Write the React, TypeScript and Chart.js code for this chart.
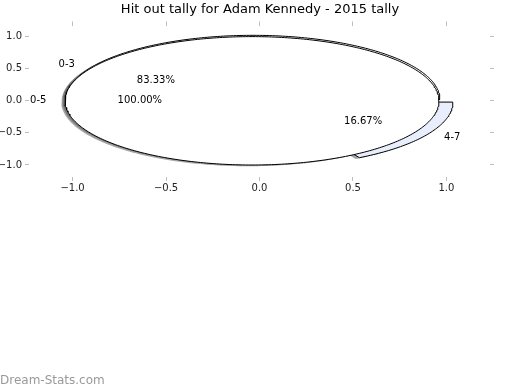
import React, { useEffect, useRef } from 'react';
import { Chart, registerables } from 'chart.js';

Chart.register(...registerables);

// ---- data ----
const titleText = 'Hit out tally for Adam Kennedy - 2015 tally';
const outerLabels = ['0-3', '4-7'];
const outerValues = [5, 1];
const outerColors = ['#ffffff', '#e8eefb'];
const innerLabels = ['0-5'];
const innerValues = [6];
const innerColors = ['#ffffff'];
const tickValues = [-1, -0.5, 0, 0.5, 1];
const watermark = 'Dream-Stats.com';

// ---- pie geometry parameters (style) ----
const EXPLODE = 0.04;
const LABEL_DIST = 1.1;
const PCT_DIST = 0.6;
const SHADOW_DX = -0.02;
const SHADOW_DY = -0.02;
const RADIUS = 1;
const X_MIN = -1.233;
const X_MAX = 1.233;
const Y_MIN = -1.187;
const Y_MAX = 1.173;

type Wedge = {
  label: string;
  pct: number;
  t1: number;
  t2: number;
  cx: number;
  cy: number;
  color: string;
  full: boolean;
  mid: number;
};

function buildPie(labels: string[], values: number[], colors: string[]): Wedge[] {
  const total = values.reduce((a, b) => a + b, 0);
  let theta = 0;
  return values.map((v, i) => {
    const span = (360 * v) / total;
    const t1 = theta;
    const t2 = theta + span;
    theta = t2;
    const mid = (((t1 + t2) / 2) * Math.PI) / 180;
    return {
      label: labels[i],
      pct: (100 * v) / total,
      t1,
      t2,
      cx: EXPLODE * Math.cos(mid),
      cy: EXPLODE * Math.sin(mid),
      color: colors[i],
      full: Math.abs(span - 360) < 1e-9,
      mid,
    };
  });
}

function wedgePoints(w: Wedge, dx = 0, dy = 0) {
  const pts: { x: number; y: number }[] = [];
  const cx = w.cx + dx;
  const cy = w.cy + dy;
  if (!w.full) pts.push({ x: cx, y: cy });
  const n = Math.max(4, Math.ceil(w.t2 - w.t1));
  for (let k = 0; k <= n; k++) {
    const a = ((w.t1 + ((w.t2 - w.t1) * k) / n) * Math.PI) / 180;
    pts.push({ x: cx + RADIUS * Math.cos(a), y: cy + RADIUS * Math.sin(a) });
  }
  if (!w.full) pts.push({ x: cx, y: cy });
  return pts;
}

const outerPie = buildPie(outerLabels, outerValues, outerColors);
const innerPie = buildPie(innerLabels, innerValues, innerColors);
const allWedges = [...outerPie, ...innerPie];

const fmt = (v: number) => (v < 0 ? '\u2212' : '') + Math.abs(v).toFixed(1);

export default function App() {
  const ref = useRef<HTMLCanvasElement | null>(null);

  useEffect(() => {
    if (!ref.current) return;

    // back-to-front: all shadows, then outer pie wedges, then inner pie wedges
    const layers: any[] = [];
    allWedges.forEach((w) => {
      layers.push({
        data: wedgePoints(w, SHADOW_DX, SHADOW_DY),
        backgroundColor: 'rgba(77,77,77,0.5)',
        borderWidth: 0,
        borderColor: 'rgba(0,0,0,0)',
      });
    });
    allWedges.forEach((w) => {
      layers.push({
        data: wedgePoints(w),
        backgroundColor: w.color,
        borderWidth: 1,
        borderColor: '#000000',
      });
    });
    const datasets = layers.map((l, idx) => ({
      ...l,
      fill: 'shape',
      showLine: true,
      tension: 0,
      pointRadius: 0,
      pointHoverRadius: 0,
      order: layers.length - 1 - idx,
    }));

    const labelPlugin = {
      id: 'pieLabels',
      afterDatasetsDraw(chart: any) {
        const { ctx } = chart;
        const xs = chart.scales.x;
        const ys = chart.scales.y;
        ctx.save();
        ctx.font = '10px "DejaVu Sans"';
        ctx.fillStyle = '#000000';
        ctx.textBaseline = 'middle';
        for (const w of allWedges) {
          const lx = w.cx + LABEL_DIST * RADIUS * Math.cos(w.mid);
          const ly = w.cy + LABEL_DIST * RADIUS * Math.sin(w.mid);
          ctx.textAlign = lx > 0 ? 'left' : 'right';
          ctx.fillText(w.label, xs.getPixelForValue(lx), ys.getPixelForValue(ly));
          const px = w.cx + PCT_DIST * RADIUS * Math.cos(w.mid);
          const py = w.cy + PCT_DIST * RADIUS * Math.sin(w.mid);
          ctx.textAlign = 'center';
          ctx.fillText(w.pct.toFixed(2) + '%', xs.getPixelForValue(px), ys.getPixelForValue(py));
        }
        ctx.font = '12px "DejaVu Sans"';
        ctx.fillStyle = '#9a9a9a';
        ctx.textAlign = 'left';
        ctx.textBaseline = 'alphabetic';
        ctx.fillText(watermark, 0, 384);
        ctx.restore();
      },
    };

    const tickFont = { family: 'DejaVu Sans', size: 10 };
    const gridOpts = {
      display: true,
      drawOnChartArea: false,
      drawTicks: true,
      tickLength: 4,
      color: '#bdbdbd',
    };
    const setTicks = (s: any) => {
      s.ticks = tickValues.map((v) => ({ value: v }));
    };

    const chart = new Chart(ref.current, {
      type: 'line',
      data: { datasets } as any,
      options: {
        responsive: false,
        animation: false,
        devicePixelRatio: 1,
        events: [],
        layout: { padding: 0 },
        plugins: {
          legend: { display: false },
          tooltip: { enabled: false },
          title: {
            display: true,
            text: titleText,
            color: '#000000',
            font: { family: 'DejaVu Sans', size: 13, weight: 'normal' },
            padding: { top: 2, bottom: 0 },
          },
        },
        scales: {
          x: {
            type: 'linear',
            position: 'bottom',
            min: X_MIN,
            max: X_MAX,
            afterBuildTicks: setTicks,
            afterFit: (s: any) => {
              s.height = 213;
            },
            grid: gridOpts,
            border: { display: false },
            ticks: {
              font: tickFont,
              color: '#222222',
              padding: 1,
              maxRotation: 0,
              autoSkip: false,
              callback: (v: any) => fmt(Number(v)),
            },
          },
          x2: {
            type: 'linear',
            position: 'top',
            min: X_MIN,
            max: X_MAX,
            afterBuildTicks: setTicks,
            afterFit: (s: any) => {
              s.height = 7.9;
            },
            grid: gridOpts,
            border: { display: false },
            ticks: { display: false },
          },
          y: {
            type: 'linear',
            position: 'left',
            min: Y_MIN,
            max: Y_MAX,
            afterBuildTicks: setTicks,
            afterFit: (s: any) => {
              s.width = 29;
            },
            grid: gridOpts,
            border: { display: false },
            ticks: {
              font: tickFont,
              color: '#222222',
              padding: 3,
              autoSkip: false,
              callback: (v: any) => fmt(Number(v)),
            },
          },
          y2: {
            type: 'linear',
            position: 'right',
            min: Y_MIN,
            max: Y_MAX,
            afterBuildTicks: setTicks,
            afterFit: (s: any) => {
              s.width = 30;
            },
            grid: gridOpts,
            border: { display: false },
            ticks: { display: false },
          },
        },
      } as any,
      plugins: [labelPlugin],
    });

    return () => chart.destroy();
  }, []);

  return (
    <div style={{ position: 'absolute', left: 0, top: 0, width: 520, height: 390, background: '#ffffff' }}>
      <canvas ref={ref} width={520} height={390} style={{ display: 'block' }} />
    </div>
  );
}
